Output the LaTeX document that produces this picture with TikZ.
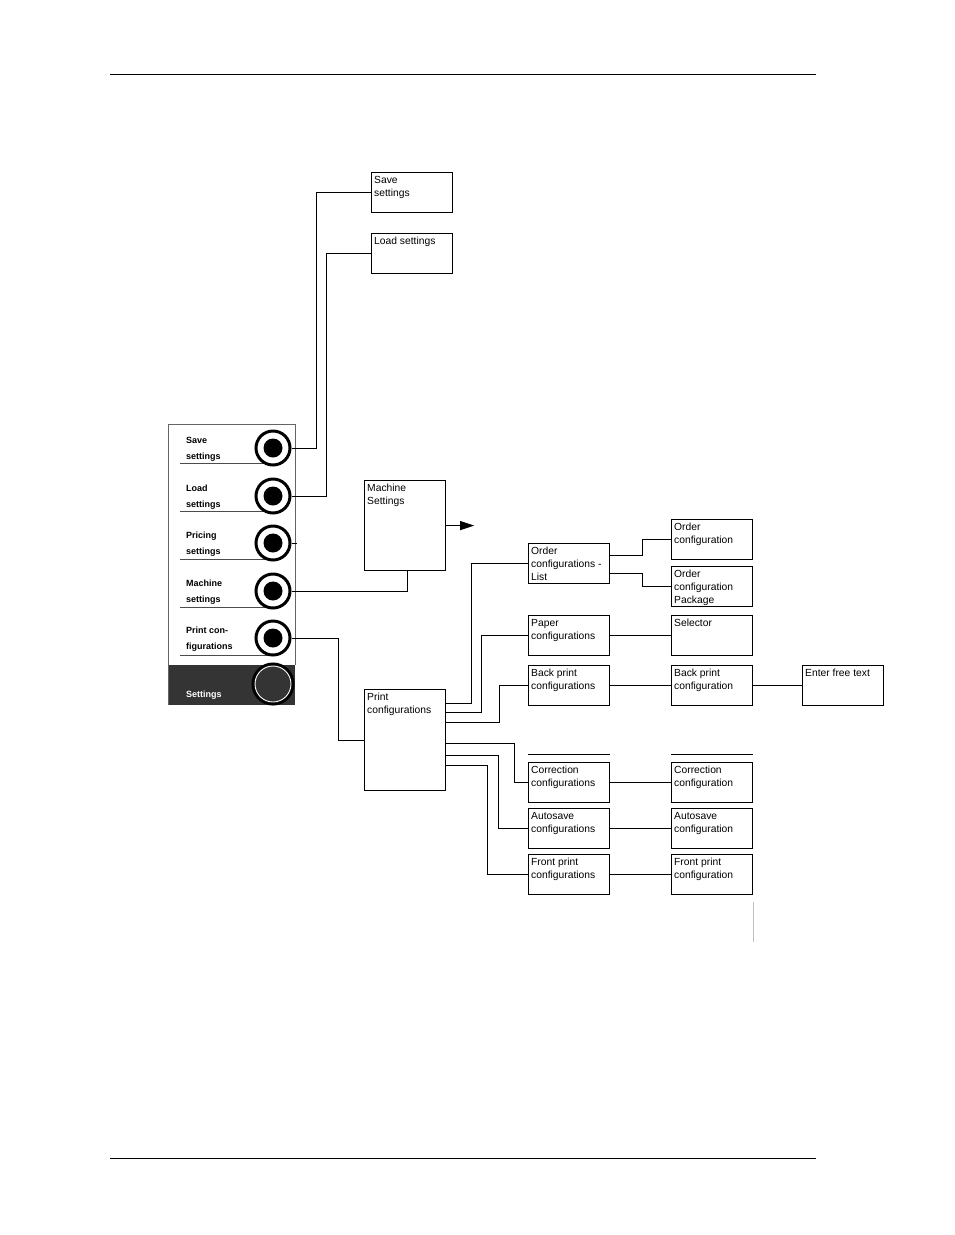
\documentclass[tikz,border=0pt]{standalone}
\usepackage{fontspec}
\setmainfont{Liberation Sans}
\usetikzlibrary{positioning,arrows.meta,calc}
\definecolor{panelbg}{RGB}{52,52,52}
\definecolor{panelrim}{RGB}{100,100,100}
\tikzset{
  box/.style={draw,line width=1.2pt,minimum width=81pt,minimum height=40pt,anchor=north west,inner sep=0pt},
  boxtxt/.style={anchor=north west,align=left,inner sep=3pt,yshift=-1pt,font=\fontsize{10.3}{12.8}\selectfont},
  menutxt/.style={anchor=base west,align=left,inner sep=0pt,font=\fontsize{9}{15.5}\selectfont\bfseries},
  btn/.style={circle,draw,line width=3pt,fill=white,minimum size=34pt,inner sep=0pt,
    path picture={\fill[black] (path picture bounding box.center) circle (9.5pt);}},
  setbtn/.style={circle,draw=white,line width=0.9pt,minimum size=36pt,inner sep=0pt,fill=panelbg,
    preaction={draw=black,line width=7pt}},
  ln/.style={line width=1pt},
  ar/.style={-{Triangle[length=14pt,width=9pt]},line width=1pt},
}
\begin{document}
\begin{tikzpicture}[x=1pt,y=-1pt]
  \useasboundingbox (0,0) rectangle (954,1235);
  % page rules
  \draw[line width=1pt] (110,74) -- (816,74);
  \draw[line width=1pt] (110,1158) -- (816,1158);

  % menu panel
  \fill[panelbg] (168,665) rectangle (295,705);
  \draw[panelrim,line width=1pt] (168,705) |- (295,424) -- (295,665);
  \foreach \y in {463,511,559,607,655}
    \draw[black!70,line width=0.8pt] (180,\y) -- (273,\y);
  \node[menutxt] (tsave) at (186,459) {Save\\settings};
  \node[menutxt] (tload) at (186,507) {Load\\settings};
  \node[menutxt] (tprice) at (186,554) {Pricing\\settings};
  \node[menutxt] (tmach) at (186,602) {Machine\\settings};
  \node[menutxt] (tprint) at (186,649) {Print con-\\figurations};
  \node[menutxt,text=white] (tset) at (186,697) {Settings};
  \node[btn] (bsave) at (273,448) {};
  \node[btn] (bload) at (273,496) {};
  \node[btn] (bprice) at (273,543) {};
  \node[btn] (bmach) at (273,591) {};
  \node[btn] (bprint) at (273,638) {};
  \node[setbtn] (bset) at (273,684) {};

  % boxes
  \node[box,label={[boxtxt]north west:Save\\settings}] (save) at (371,172) {};
  \node[box,label={[boxtxt]north west:Load settings}] (load) at (371,233) {};
  \node[box,minimum height=90pt,label={[boxtxt]north west:Machine\\Settings}] (mach) at (364,480) {};
  \node[box,minimum height=101pt,label={[boxtxt]north west:Print\\configurations}] (pconf) at (364,689) {};
  \node[box,label={[boxtxt]north west:Order\\configurations -\\List}] (olist) at (528,543) {};
  \node[box,label={[boxtxt]north west:Order\\configuration}] (ocfg) at (671,519) {};
  \node[box,label={[boxtxt]north west:Order\\configuration\\Package}] (opkg) at (671,566) {};
  \node[box,label={[boxtxt]north west:Paper\\configurations}] (paper) at (528,615) {};
  \node[box,label={[boxtxt]north west:Selector}] (sel) at (671,615) {};
  \node[box,label={[boxtxt]north west:Back print\\configurations}] (bpc) at (528,665) {};
  \node[box,label={[boxtxt]north west:Back print\\configuration}] (bp) at (671,665) {};
  \node[box,label={[boxtxt]north west:Enter free text}] (free) at (802,665) {};
  \node[box,label={[boxtxt]north west:Correction\\configurations}] (corrs) at (528,762) {};
  \node[box,label={[boxtxt]north west:Correction\\configuration}] (corr) at (671,762) {};
  \node[box,label={[boxtxt]north west:Autosave\\configurations}] (autos) at (528,808) {};
  \node[box,label={[boxtxt]north west:Autosave\\configuration}] (auto) at (671,808) {};
  \node[box,label={[boxtxt]north west:Front print\\configurations}] (fronts) at (528,854) {};
  \node[box,label={[boxtxt]north west:Front print\\configuration}] (front) at (671,854) {};

  % stray rules
  \draw[line width=0.8pt] ([yshift=8pt]corrs.north west) -- ([yshift=8pt]corrs.north east);
  \draw[line width=0.8pt] ([yshift=8pt]corr.north west) -- ([yshift=8pt]corr.north east);
  \draw[black!25,line width=0.8pt] ([yshift=-7pt]front.south east) -- ++(0,40);

  % menu connectors
  \draw[ln] (bsave.east) -- ++(25,0) |- (save.west);
  \draw[ln] (bload.east) -- ++(35,0) |- (load.west);
  \draw[ln] (bprice.east) -- ++(5,0);
  \draw[ln] (bmach.east) -| ([xshift=2pt]mach.south);
  \draw[ar] (mach.east) -- ++(28,0);
  \draw[ln] (bprint.east) -- ++(47,0) |- (pconf.west);

  % print configurations tree
  \draw[ln] ($(pconf.north east)+(0,14)$) -- ++(25,0) |- (olist.west);
  \draw[ln] ($(pconf.north east)+(0,23)$) -- ++(35,0) |- (paper.west);
  \draw[ln] ($(pconf.north east)+(0,33)$) -- ++(53,0) |- (bpc.west);
  \draw[ln] ($(pconf.north east)+(0,54)$) -- ++(68,0) |- (corrs.west);
  \draw[ln] ($(pconf.north east)+(0,66)$) -- ++(52,0) |- (autos.west);
  \draw[ln] ($(pconf.north east)+(0,76)$) -- ++(41,0) |- (fronts.west);
  \draw[ln] ($(olist.north east)+(0,12)$) -- ++(32,0) |- (ocfg.west);
  \draw[ln] ($(olist.north east)+(0,30)$) -- ++(32,0) |- (opkg.west);
  \draw[ln] (paper.east) -- (sel.west);
  \draw[ln] (bpc.east) -- (bp.west);
  \draw[ln] (bp.east) -- (free.west);
  \draw[ln] (corrs.east) -- (corr.west);
  \draw[ln] (autos.east) -- (auto.west);
  \draw[ln] (fronts.east) -- (front.west);
\end{tikzpicture}
\end{document}
